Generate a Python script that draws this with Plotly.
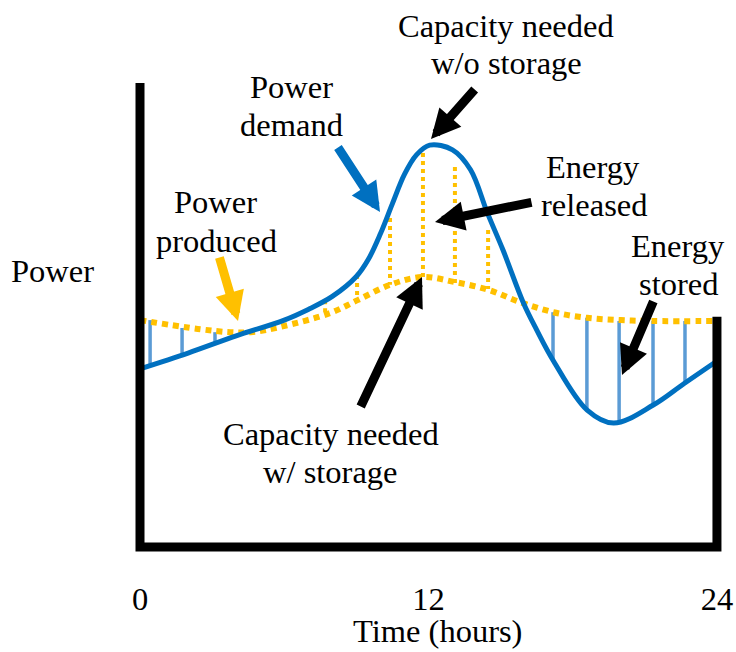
import plotly.graph_objects as go

# ---------------- data ----------------
demand_hours = [0, 2, 4, 6, 7, 8, 9, 9.5, 10, 10.5, 11, 11.5, 12.05,
                13, 13.75, 14.45, 15.1, 15.95, 16.5, 17.2, 18.6, 19.7, 21.35, 22.65, 24]
demand_power = [38.4, 41.8, 45.5, 48.9, 51.2, 54.0, 58.3, 62.0, 67.5, 74.0, 80.3, 84.5, 86.6,
                85.6, 81.3, 72.0, 64.0, 52.6, 46.8, 40.1, 29.5, 26.7, 30.6, 35.3, 40.1]

produced_hours = [0, 2.4, 3.75, 4.6, 5.8, 7.9, 9.05, 10.4, 11.75, 13.1, 14.5, 15.8,
                  17.2, 18.6, 20, 21.35, 24]
produced_power = [48.9, 47.0, 46.3, 46.3, 47.4, 50.4, 53.2, 56.5, 58.2, 57.1, 55.4, 52.8,
                  50.6, 49.4, 48.9, 48.7, 48.7]

stored_hours = [0.42, 1.75, 3.12, 17.18, 18.59, 19.93, 21.34, 22.67]
stored_top = [48.9, 47.2, 46.3, 50.6, 49.4, 48.7, 48.7, 48.7]
stored_bottom = [39.0, 41.6, 44.2, 40.3, 29.5, 26.9, 30.4, 35.3]

released_hours = [7.70, 9.03, 10.40, 11.77, 13.10, 14.48]
released_top = [53.2, 58.6, 70.9, 84.9, 81.9, 68.3]
released_bottom = [50.2, 53.7, 56.5, 58.2, 56.9, 55.6]

tick_values = [0, 12, 24]
tick_labels = ["0", "12", "24"]
frame_top = 100
frame_right_top = 49.6

# ---------------- styling ----------------
BLUE = "#0070C0"
LIGHT_BLUE = "#5B9BD5"
YELLOW = "#FFC000"
FONT = "Liberation Serif, Times New Roman, serif"
FS = 32.5

W, H = 736, 652
ML, MR, MT, MB = 120, 0, 70, 92
PW, PH = W - ML - MR, H - MT - MB


# pixel -> axis value helpers (layout placement only)
def hx(px):
    return (px - 140) / 24.04


def vy(py):
    return (547 - py) / 4.64


# pixel -> paper helpers for annotations
def xp(px):
    return (px - ML) / PW


def yp(py):
    return (MT + PH - py) / PH


def segments(xs, tops, bottoms):
    X, Y = [], []
    for x, t, b in zip(xs, tops, bottoms):
        X += [x, x, None]
        Y += [t, b, None]
    return X, Y


fig = go.Figure()

sx, sy = segments(stored_hours, stored_top, stored_bottom)
fig.add_trace(go.Scatter(x=sx, y=sy, mode="lines",
                         line=dict(color=LIGHT_BLUE, width=3.5),
                         hoverinfo="skip", showlegend=False))

rx, ry = segments(released_hours, released_top, released_bottom)
fig.add_trace(go.Scatter(x=rx, y=ry, mode="lines",
                         line=dict(color=YELLOW, width=4, dash="4px,4px"),
                         hoverinfo="skip", showlegend=False))

fig.add_trace(go.Scatter(x=produced_hours, y=produced_power, mode="lines",
                         line=dict(color=YELLOW, width=6, dash="6px,5px", shape="spline"),
                         showlegend=False, name="Power produced"))

fig.add_trace(go.Scatter(x=demand_hours, y=demand_power, mode="lines",
                         line=dict(color=BLUE, width=5, shape="spline"),
                         showlegend=False, name="Power demand"))

# frame (left, bottom, right)
fig.add_shape(type="path",
              path=f"M 0,{frame_top} L 0,0 L 24,0 L 24,{frame_right_top}",
              xref="x", yref="y", line=dict(color="black", width=9), layer="above")

annotations = []

texts = [
    ("Capacity needed", 506, 37),
    ("w/o storage", 506, 74),
    ("Power", 291, 98),
    ("demand", 291, 136),
    ("Power", 215, 213),
    ("produced", 216, 252),
    ("Capacity needed", 331, 445),
    ("w/ storage", 330, 483),
    ("Energy", 593, 178),
    ("released", 594, 216),
    ("Energy", 678, 257),
    ("stored", 678, 295),
    ("Power", 52, 282),
    ("Time (hours)", 437, 642),
]
for t, cx, base in texts:
    annotations.append(dict(text=t, x=xp(cx), y=yp(base - 0.3375 * FS), xref="paper", yref="paper",
                            xanchor="center", yanchor="middle", showarrow=False,
                            font=dict(family=FONT, size=FS, color="black")))

arrows = [
    ((476, 88), (431, 139), "black"),
    ((337, 146), (380, 212), BLUE),
    ((219, 256), (238, 321), YELLOW),
    ((360, 408), (422, 277), "black"),
    ((533, 202), (435, 222), "black"),
    ((654, 300), (622, 375), "black"),
]
for (tx, ty), (px_, py_), col in arrows:
    annotations.append(dict(text="", x=xp(px_), y=yp(py_), xref="paper", yref="paper",
                            ax=tx - px_, ay=ty - py_, axref="pixel", ayref="pixel",
                            showarrow=True, arrowhead=2, arrowsize=0.65, arrowwidth=9,
                            arrowcolor=col, standoff=0, startstandoff=0))

fig.update_layout(
    width=W, height=H,
    margin=dict(l=ML, r=MR, t=MT, b=MB, pad=0),
    paper_bgcolor="white", plot_bgcolor="white",
    xaxis=dict(range=[hx(ML), hx(W - MR)], tickvals=tick_values, ticktext=tick_labels,
               showgrid=False, zeroline=False, showline=False, ticks="",
               tickfont=dict(family=FONT, size=FS, color="black"),
               ticklabelstandoff=16, fixedrange=True),
    yaxis=dict(range=[vy(MT + PH), vy(MT)], visible=False, showgrid=False,
               zeroline=False, fixedrange=True),
    annotations=annotations,
    showlegend=False,
)

fig.write_html("out.html", config={"displayModeBar": False},
               post_script="document.body.style.margin='0';")
